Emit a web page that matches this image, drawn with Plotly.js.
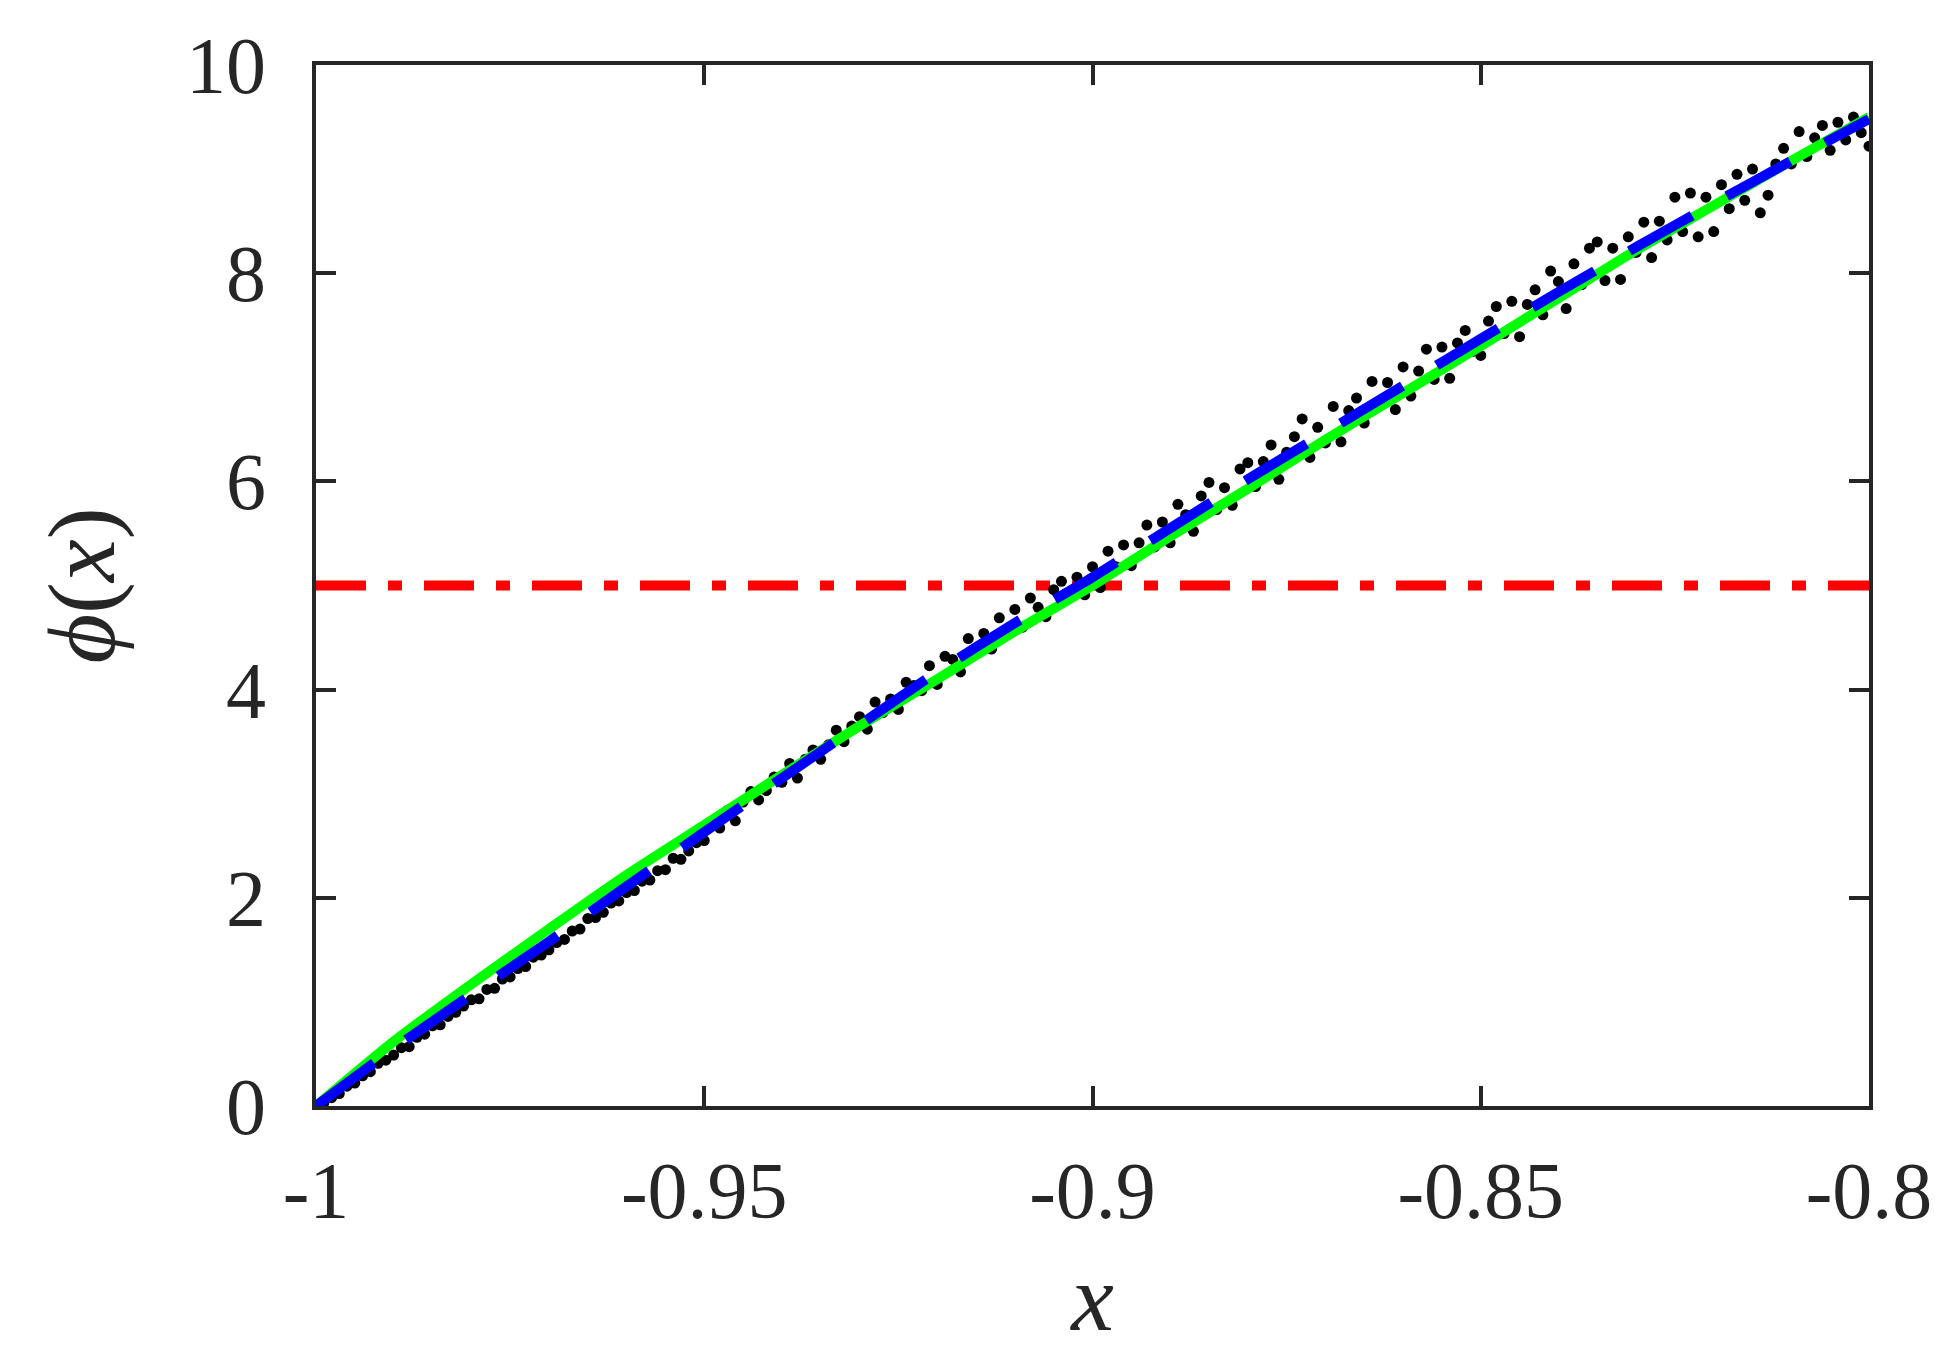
<!DOCTYPE html>
<html>
<head>
<meta charset="utf-8">
<script src="https://cdn.plot.ly/plotly-3.0.1.min.js"></script>
<style>html,body{margin:0;padding:0;background:#fff;}#chart{width:1935px;height:1370px;}</style>
</head>
<body>
<div id="chart"></div>
<script>
// Smooth curves (x, phi)
const curveX = [-1.00,-0.99,-0.98,-0.97,-0.96,-0.95,-0.94,-0.93,-0.92,-0.91,-0.90,-0.89,-0.88,-0.87,-0.86,-0.85,-0.84,-0.83,-0.82,-0.81,-0.80];
const greenY = [0,0.62,1.17,1.70,2.22,2.70,3.18,3.65,4.10,4.56,5.00,5.47,5.93,6.40,6.85,7.30,7.76,8.22,8.65,9.08,9.50];
const blueY  = [0,0.55,1.07,1.58,2.11,2.63,3.15,3.66,4.17,4.64,5.08,5.55,6.02,6.47,6.92,7.37,7.82,8.25,8.67,9.08,9.48];

// Threshold line
const thresholdX = [-1.0, -0.8];
const thresholdY = [5, 5];

// Noisy samples (black dots)
const dotX = [
-1.000,-0.999,-0.998,-0.997,-0.996,-0.995,-0.994,-0.993,-0.992,-0.991,
-0.990,-0.989,-0.988,-0.987,-0.986,-0.985,-0.984,-0.983,-0.982,-0.981,
-0.980,-0.979,-0.978,-0.977,-0.976,-0.975,-0.974,-0.973,-0.972,-0.971,
-0.970,-0.969,-0.968,-0.967,-0.966,-0.965,-0.964,-0.963,-0.962,-0.961,
-0.960,-0.959,-0.958,-0.957,-0.956,-0.955,-0.954,-0.953,-0.952,-0.951,
-0.950,-0.949,-0.948,-0.947,-0.946,-0.945,-0.944,-0.943,-0.942,-0.941,
-0.940,-0.939,-0.938,-0.937,-0.936,-0.935,-0.934,-0.933,-0.932,-0.931,
-0.930,-0.929,-0.928,-0.927,-0.926,-0.925,-0.924,-0.923,-0.922,-0.921,
-0.920,-0.919,-0.918,-0.917,-0.916,-0.915,-0.914,-0.913,-0.912,-0.911,
-0.910,-0.909,-0.908,-0.907,-0.906,-0.905,-0.904,-0.903,-0.902,-0.901,
-0.900,-0.899,-0.898,-0.897,-0.896,-0.895,-0.894,-0.893,-0.892,-0.891,
-0.890,-0.889,-0.888,-0.887,-0.886,-0.885,-0.884,-0.883,-0.882,-0.881,
-0.880,-0.879,-0.878,-0.877,-0.876,-0.875,-0.874,-0.873,-0.872,-0.871,
-0.870,-0.869,-0.868,-0.867,-0.866,-0.865,-0.864,-0.863,-0.862,-0.861,
-0.860,-0.859,-0.858,-0.857,-0.856,-0.855,-0.854,-0.853,-0.852,-0.851,
-0.850,-0.849,-0.848,-0.847,-0.846,-0.845,-0.844,-0.843,-0.842,-0.841,
-0.840,-0.839,-0.838,-0.837,-0.836,-0.835,-0.834,-0.833,-0.832,-0.831,
-0.830,-0.829,-0.828,-0.827,-0.826,-0.825,-0.824,-0.823,-0.822,-0.821,
-0.820,-0.819,-0.818,-0.817,-0.816,-0.815,-0.814,-0.813,-0.812,-0.811,
-0.810,-0.809,-0.808,-0.807,-0.806,-0.805,-0.804,-0.803,-0.802,-0.801,
-0.800];
const dotY = [
0.00,0.03,0.08,0.12,0.19,0.22,0.29,0.33,0.41,0.44,
0.49,0.56,0.57,0.66,0.69,0.77,0.78,0.86,0.90,0.96,
1.02,1.03,1.12,1.13,1.22,1.24,1.32,1.34,1.43,1.45,
1.50,1.57,1.60,1.68,1.70,1.80,1.81,1.86,1.95,1.97,
2.05,2.07,2.16,2.17,2.26,2.27,2.38,2.37,2.45,2.53,
2.55,2.70,2.67,2.84,2.74,2.92,3.02,2.94,3.03,3.16,
3.11,3.29,3.15,3.33,3.42,3.33,3.47,3.61,3.50,3.65,
3.74,3.62,3.88,3.78,3.91,3.81,4.07,4.04,3.99,4.23,
4.05,4.32,4.29,4.17,4.49,4.36,4.54,4.39,4.69,4.57,
4.77,4.60,4.88,4.79,4.70,4.96,5.04,4.89,5.08,4.91,
5.18,4.98,5.33,5.18,5.39,5.19,5.41,5.58,5.37,5.61,
5.41,5.78,5.68,5.52,5.86,5.99,5.73,5.94,5.77,6.12,
6.18,5.95,6.19,6.35,6.02,6.28,6.43,6.60,6.23,6.52,
6.37,6.72,6.38,6.68,6.80,6.56,6.96,6.73,6.95,6.69,
7.10,6.82,7.06,7.27,6.98,7.29,6.99,7.33,7.45,7.25,
7.21,7.54,7.68,7.42,7.73,7.39,7.70,7.84,7.60,8.02,
7.92,7.66,8.09,7.89,8.24,8.30,7.93,8.24,7.94,8.35,
8.20,8.49,8.15,8.50,8.32,8.73,8.40,8.77,8.35,8.73,
8.40,8.85,8.62,8.95,8.70,9.00,8.58,8.75,9.05,9.20,
9.05,9.36,9.12,9.30,9.42,9.18,9.45,9.28,9.50,9.35,
9.22];

const xTickVals = [-1, -0.95, -0.9, -0.85, -0.8];
const xTickText = ["-1", "-0.95", "-0.9", "-0.85", "-0.8"];
const yTickVals = [0, 2, 4, 6, 8, 10];
const yTickText = ["0", "2", "4", "6", "8", "10"];

const axisColor = '#262626';
const serif = '"Liberation Serif", "Times New Roman", Times, serif';

const traces = [
  {x: thresholdX, y: thresholdY, mode: 'lines', type: 'scatter',
   line: {color: '#ff0000', width: 10, dash: '50px,22px,14px,22px'}, hoverinfo: 'skip'},
  {x: dotX, y: dotY, mode: 'markers', type: 'scatter',
   marker: {color: '#000000', size: 11, line: {width: 0}}},
  {x: curveX, y: greenY, mode: 'lines', type: 'scatter',
   line: {color: '#00ff00', width: 10, shape: 'spline', smoothing: 0.6}},
  {x: curveX, y: blueY, mode: 'lines', type: 'scatter',
   line: {color: '#0000ff', width: 10, dash: '72px,40px', shape: 'spline', smoothing: 0.6}}
];

const layout = {
  width: 1935, height: 1370,
  margin: {l: 316, r: 66, t: 65, b: 264},
  paper_bgcolor: '#ffffff', plot_bgcolor: '#ffffff',
  showlegend: false,
  font: {family: serif, color: axisColor},
  xaxis: {
    range: [-1, -0.8], autorange: false,
    tickmode: 'array', tickvals: xTickVals, ticktext: xTickText,
    ticks: 'inside', ticklen: 20, tickwidth: 4, tickcolor: axisColor,
    showline: true, linewidth: 4, linecolor: axisColor, mirror: 'ticks',
    showgrid: false, zeroline: false,
    tickfont: {family: serif, size: 80, color: axisColor},
    ticklabelstandoff: 12,
    title: {text: '<i>x</i>', font: {family: serif, size: 96, color: axisColor}, standoff: 30}
  },
  yaxis: {
    range: [0, 10], autorange: false,
    tickmode: 'array', tickvals: yTickVals, ticktext: yTickText,
    ticks: 'inside', ticklen: 20, tickwidth: 4, tickcolor: axisColor,
    showline: true, linewidth: 4, linecolor: axisColor, mirror: 'ticks',
    showgrid: false, zeroline: false,
    tickfont: {family: serif, size: 80, color: axisColor},
    ticklabelstandoff: 30,
    title: {text: '<i>ϕ</i>(<i>x</i>)', font: {family: serif, size: 96, color: axisColor}, standoff: 40}
  }
};

Plotly.newPlot('chart', traces, layout, {displayModeBar: false, staticPlot: true});
</script>
</body>
</html>
